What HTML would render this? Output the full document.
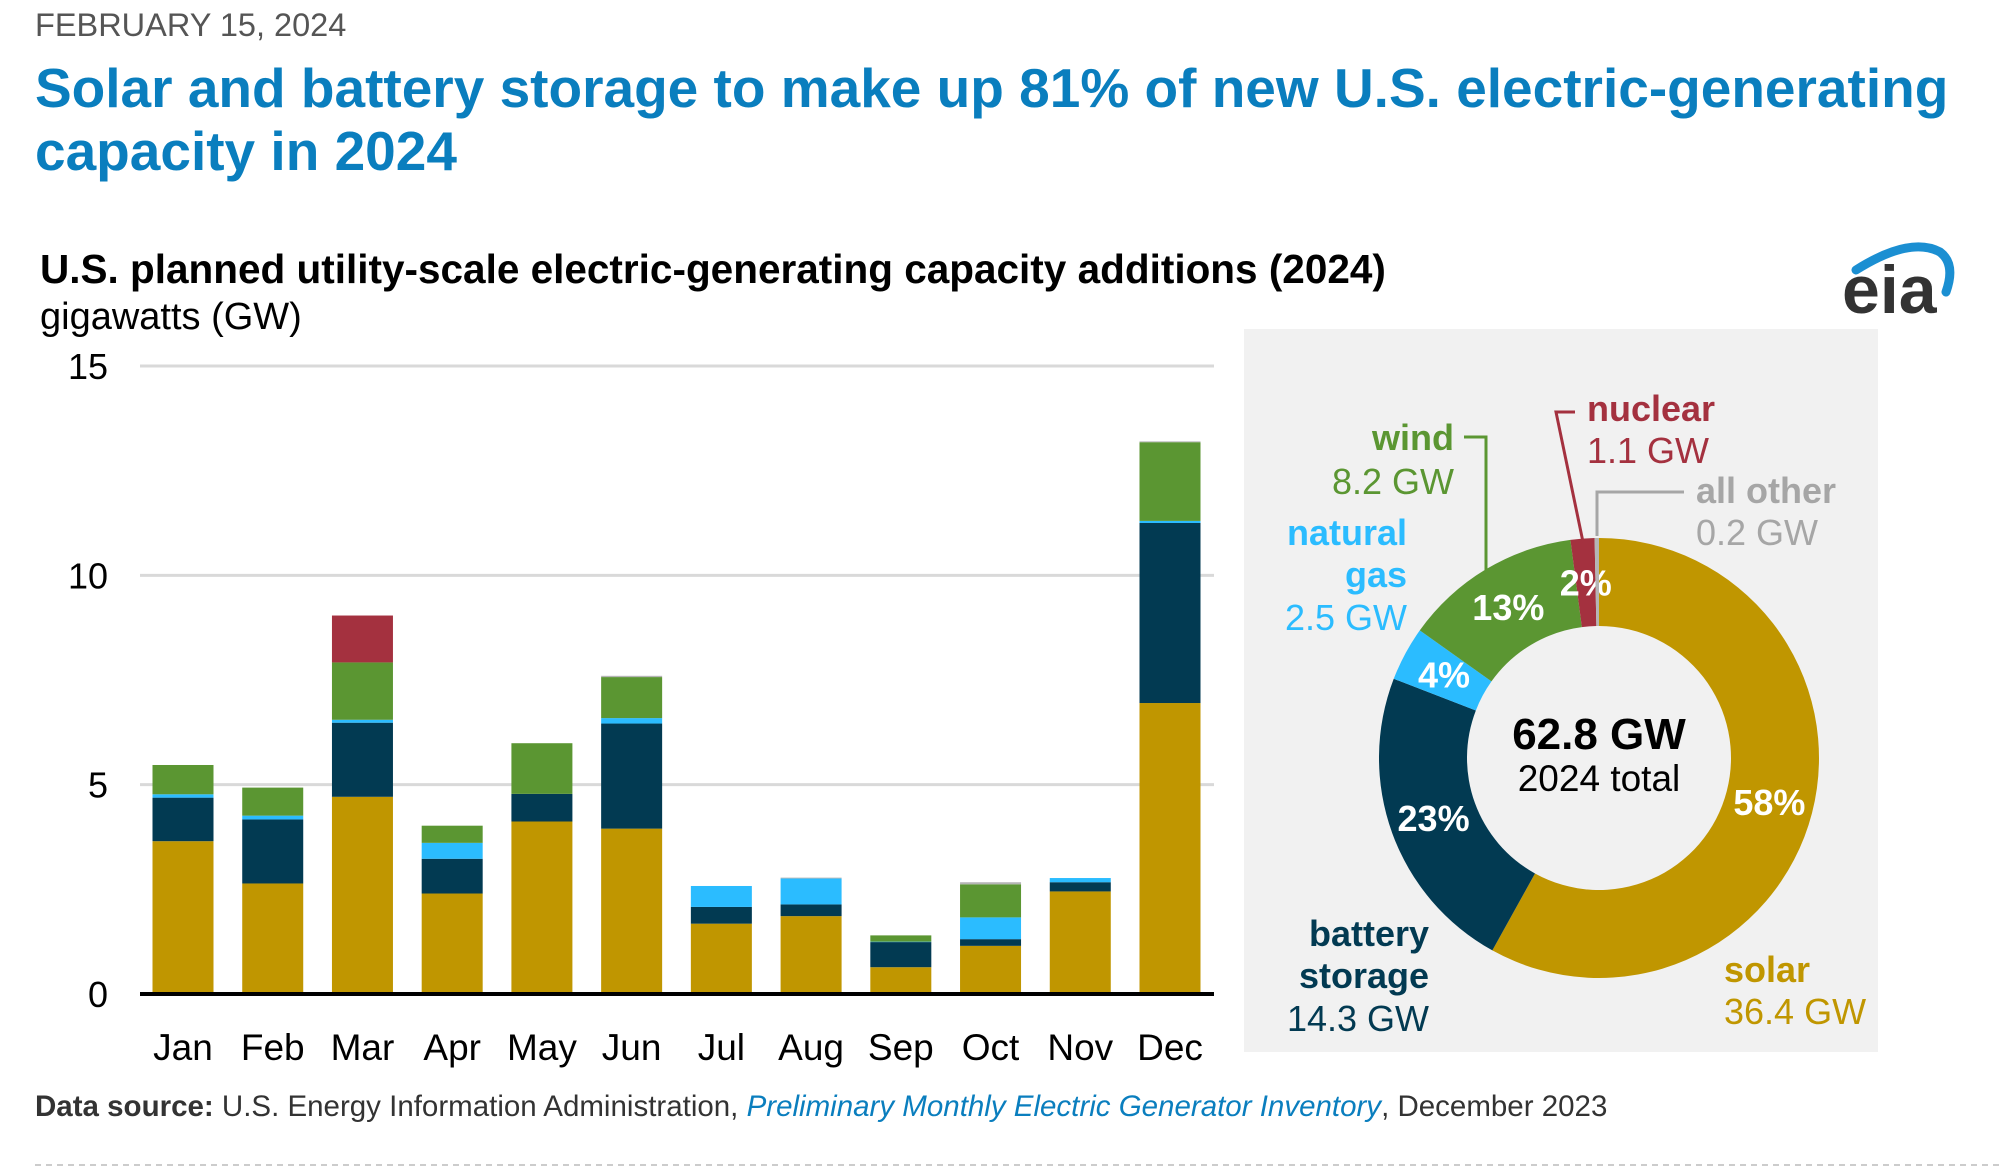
<!DOCTYPE html>
<html><head><meta charset="utf-8"><style>
html,body{margin:0;padding:0;background:#fff;}
svg{display:block;font-family:"Liberation Sans",Arial,sans-serif;}
</style></head><body>
<svg id="s" width="2000" height="1168" viewBox="0 0 2000 1168" xmlns="http://www.w3.org/2000/svg">
<text x="35" y="36" font-size="32.5" fill="#555">FEBRUARY 15, 2024</text>
<text x="35" y="107" font-size="55" font-weight="bold" fill="#0a7ebe">Solar and battery storage to make up 81% of new U.S. electric-generating</text>
<text x="35" y="170" font-size="55" font-weight="bold" fill="#0a7ebe">capacity in 2024</text>
<text x="40" y="283" font-size="40.5" font-weight="bold" fill="#000">U.S. planned utility-scale electric-generating capacity additions (2024)</text>
<text x="40" y="329" font-size="38" fill="#000">gigawatts (GW)</text>
<g>
<path d="M1856,270 Q1910,236 1940,252 Q1956,264 1946,292" fill="none" stroke="#1b8fd2" stroke-width="9" stroke-linecap="round"/>
<text x="1842" y="313" font-size="68" font-weight="bold" fill="#333">eia</text>
</g>
<rect x="1244" y="329" width="634" height="723" fill="#f1f1f1"/>
<g id="bars"></g>
<g id="donut"></g>
<line x1="35" y1="1165" x2="2000" y2="1165" stroke="#ccc" stroke-width="2" stroke-dasharray="6,5"/>
<text x="35" y="1116" font-size="29.5" fill="#333"><tspan font-weight="bold">Data source:</tspan> U.S. Energy Information Administration, <tspan font-style="italic" fill="#0a7ebe">Preliminary Monthly Electric Generator Inventory</tspan>, December 2023</text>
</svg>
<script>
const months=["Jan","Feb","Mar","Apr","May","Jun","Jul","Aug","Sep","Oct","Nov","Dec"];
const solar=[3.65,2.64,4.71,2.40,4.12,3.95,1.68,1.86,0.64,1.15,2.45,6.95];
const battery=[1.04,1.53,1.77,0.83,0.66,2.51,0.40,0.28,0.60,0.16,0.22,4.30];
const gas=[0.08,0.09,0.07,0.38,0,0.13,0.50,0.62,0.01,0.52,0.10,0.05];
const wind=[0.70,0.67,1.37,0.41,1.21,0.98,0,0,0.15,0.79,0,1.88];
const nuclear=[0,0,1.12,0,0,0,0,0,0,0,0,0];
const other=[0,0,0,0,0,0.03,0,0.02,0,0.05,0,0.02];
const yTicks=[0,5,10,15];
const donutNames=["solar","battery storage","natural gas","wind","nuclear","all other"];
const donutValues=[36.4,14.3,2.5,8.2,1.1,0.2];
const donutPct=["58%","23%","4%","13%","2%",""];
const NS="http://www.w3.org/2000/svg";
function mk(t,a,p){const e=document.createElementNS(NS,t);for(const k in a)e.setAttribute(k,a[k]);p.appendChild(e);return e;}
const X0=140,X1=1214,Y0=994,Y15=366;
const y=v=>Y0-(v/15)*(Y0-Y15);
const c0=183,c11=1170;
const x=i=>c0+(c11-c0)/11*i;
const bw=61;
const g=document.getElementById('bars');
yTicks.forEach(t=>{
 if(t>0){const l=mk('line',{x1:X0,x2:X1,y1:y(t),y2:y(t),stroke:'#d9d9d9','stroke-width':3},g);
 
 }
 const tx=mk('text',{x:108,y:y(t)+13,'font-size':36,'text-anchor':'end',fill:'#000'},g);tx.textContent=t;
 
 
});
const series=[["solar",solar,"#c09600"],["battery",battery,"#023a52"],["gas",gas,"#2bbcff"],["wind",wind,"#5b9632"],["nuclear",nuclear,"#a4313f"],["other",other,"#b5b5b5"]];
months.forEach((m,i)=>{
 let acc=0;
 series.forEach(([n,arr,c])=>{
  const v=arr[i];if(v<=0)return;
  const r=mk('rect',{x:x(i)-bw/2,y:y(acc+v),width:bw,height:y(acc)-y(acc+v),fill:c},g);
  
  
  acc+=v;
 });
 const t=mk('text',{x:x(i),y:1060,'font-size':37,'text-anchor':'middle',fill:'#000'},g);t.textContent=m;
 
 
});
const ax=mk('line',{x1:X0,x2:X1,y1:Y0,y2:Y0,stroke:'#000','stroke-width':4},g);


const d=document.getElementById('donut');
const cx=1599,cy=758,R=220,r=132;
const colors=["#c09600","#023a52","#2bbcff","#5b9632","#a4313f","#b5b5b5"];
const tot=donutValues.reduce((a,b)=>a+b,0);
let a0=0;
const pt=(ang,rad)=>[cx+rad*Math.sin(ang),cy-rad*Math.cos(ang)];
donutValues.forEach((v,i)=>{
 const a1=a0+v/tot*2*Math.PI;
 const [x1,y1]=pt(a0,R),[x2,y2]=pt(a1,R),[x3,y3]=pt(a1,r),[x4,y4]=pt(a0,r);
 const lg=(a1-a0)>Math.PI?1:0;
 const p=mk('path',{d:`M${x1},${y1}A${R},${R} 0 ${lg} 1 ${x2},${y2}L${x3},${y3}A${r},${r} 0 ${lg} 0 ${x4},${y4}Z`,fill:colors[i]},d);
 
 
 if(donutPct[i]){
  const mid=(a0+a1)/2;
  const [tx,ty]=pt(mid,(R+r)/2);
  const t=mk('text',{x:tx,y:ty+13,'font-size':36,'font-weight':'bold','text-anchor':'middle',fill:'#fff'},d);t.textContent=donutPct[i];
  
  
 }
 a0=a1;
});
function lbl(txt,xx,yy,anchor,col,bold,name,fs){const t=mk('text',{x:xx,y:yy,'font-size':fs||36,'text-anchor':anchor,fill:col,'font-weight':bold?'bold':'normal'},d);t.textContent=txt;
 
 }
lbl("62.8 GW",cx,749,'middle','#000',true,'donut-total',44);
lbl("2024 total",cx,791,'middle','#000',false,'donut-total-caption',37);
lbl("wind",1454,450,'end','#5b9632',true,'wind-label');
lbl("8.2 GW",1454,494,'end','#5b9632',false,'wind-value');
lbl("natural",1407,545,'end','#2bbcff',true,'gas-label');
lbl("gas",1407,587,'end','#2bbcff',true,'gas-label-2');
lbl("2.5 GW",1407,630,'end','#2bbcff',false,'gas-value');
lbl("nuclear",1587,421,'start','#a4313f',true,'nuclear-label');
lbl("1.1 GW",1587,463,'start','#a4313f',false,'nuclear-value');
lbl("all other",1696,503,'start','#a6a6a6',true,'other-label');
lbl("0.2 GW",1696,545,'start','#a6a6a6',false,'other-value');
lbl("battery",1429,946,'end','#023a52',true,'battery-label');
lbl("storage",1429,988,'end','#023a52',true,'battery-label-2');
lbl("14.3 GW",1429,1031,'end','#023a52',false,'battery-value');
lbl("solar",1724,982,'start','#c09600',true,'solar-label');
lbl("36.4 GW",1724,1024,'start','#c09600',false,'solar-value');
function ld(pts,col,name){const p=mk('polyline',{points:pts,fill:'none',stroke:col,'stroke-width':3},d);
 
 }
ld("1464,437 1486,437 1486,571","#5b9632",'wind-leader');
ld("1575,412 1556,412 1583,542","#a4313f",'nuclear-leader');
ld("1684,492 1597,492 1597,536","#a6a6a6",'other-leader');
</script>
</body></html>
